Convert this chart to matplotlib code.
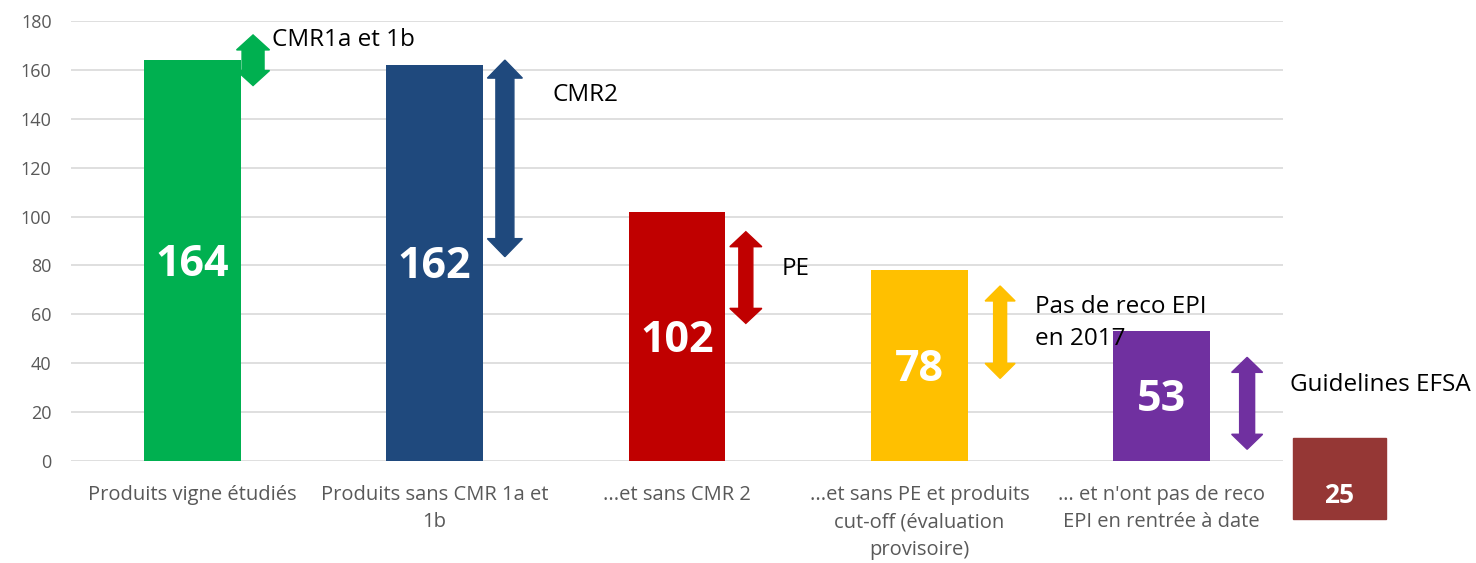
import matplotlib
matplotlib.use("Agg")
import matplotlib.pyplot as plt
from matplotlib.patches import Polygon, Rectangle

plt.rcParams['font.family'] = ['Open Sans', 'DejaVu Sans']

# ---- data ----
categories = [
    "Produits vigne étudiés",
    "Produits sans CMR 1a et\n1b",
    "...et sans CMR 2",
    "...et sans PE et produits\ncut-off (évaluation\nprovisoire)",
    "… et n'ont pas de reco\nEPI en rentrée à date",
]
values = [164, 162, 102, 78, 53]
final_value = 25
bar_colors = ["#00B050", "#1F497D", "#C00000", "#FFC000", "#7030A0"]
final_color = "#953735"

# annotations: (x, y_top, y_bottom, colour, shaft_px, head_px, headlen_px)
arrow_specs = [
    (0.251, 174.3, 153.6, "#00B050", 22, 33, 15),
    (1.290, 164.0, 83.6, "#1F497D", 18, 35, 18),
    (2.284, 93.8, 56.3, "#C00000", 14, 32, 15),
    (3.333, 71.6, 33.8, "#FFC000", 13, 30, 15),
    (4.352, 42.4, 4.8, "#7030A0", 15, 31, 15),
]
arrow_labels = [
    (0.329, 172.3, "CMR1a et 1b"),
    (1.488, 149.8, "CMR2"),
    (2.433, 78.5, "PE"),
    (3.477, 56.3, "Pas de reco EPI\nen 2017"),
    (4.529, 31.1, "Guidelines EFSA"),
]

W, H, DPI = 14.76, 5.63, 100
fig = plt.figure(figsize=(W, H), dpi=DPI)
ax = fig.add_axes([71 / 1476, 102 / 563, (1283 - 71) / 1476, 440 / 563])

x = list(range(len(categories)))
ax.bar(x, values, width=0.4, color=bar_colors, zorder=3)
ax.set_xlim(-0.5, len(categories) - 0.5)
ax.set_ylim(0, 180)
ax.set_yticks(range(0, 181, 20))
ax.set_xticks(x)
ax.set_xticklabels(categories, fontsize=14.5, color="#595959", linespacing=1.5)
ax.tick_params(axis='y', labelsize=13, labelcolor="#595959", length=0, pad=14)
ax.tick_params(axis='x', length=0, pad=17)
ax.grid(axis='y', color="#D9D9D9", linewidth=1.2, zorder=0)
ax.set_axisbelow(True)
for s in ax.spines.values():
    s.set_visible(False)

for xi, v in zip(x, values):
    ax.text(xi, v / 2 - 1.5, str(v), ha='center', va='center', color='white',
            fontsize=31, fontweight='bold', zorder=4)

# px -> data unit conversions
px_x = 1 / 242.4
px_y = 180 / 440.0

def double_arrow(xc, ytop, ybot, color, shaft, head, hl):
    sw = shaft * px_x / 2
    hw = head * px_x / 2
    hly = hl * px_y
    pts = [
        (xc, ytop), (xc + hw, ytop - hly), (xc + sw, ytop - hly),
        (xc + sw, ybot + hly), (xc + hw, ybot + hly), (xc, ybot),
        (xc - hw, ybot + hly), (xc - sw, ybot + hly), (xc - sw, ytop - hly),
        (xc - hw, ytop - hly),
    ]
    ax.add_patch(Polygon(pts, closed=True, color=color, zorder=4, clip_on=False))

for spec in arrow_specs:
    double_arrow(*spec)

for xl, yl, t in arrow_labels:
    ax.text(xl, yl, t, ha='left', va='center', fontsize=17.5, color='black',
            linespacing=1.45, zorder=5)

# final box (drawn outside plot area)
bx0, bx1 = 4.541, 4.925
by0, by1 = -23.7, 9.4
ax.add_patch(Rectangle((bx0, by0), bx1 - bx0, by1 - by0, color=final_color,
                       clip_on=False, zorder=4))
ax.text((bx0 + bx1) / 2, -14, str(final_value), ha='center', va='center',
        color='white', fontsize=19, fontweight='bold', zorder=5, clip_on=False)

fig.savefig("out.png", dpi=DPI)
